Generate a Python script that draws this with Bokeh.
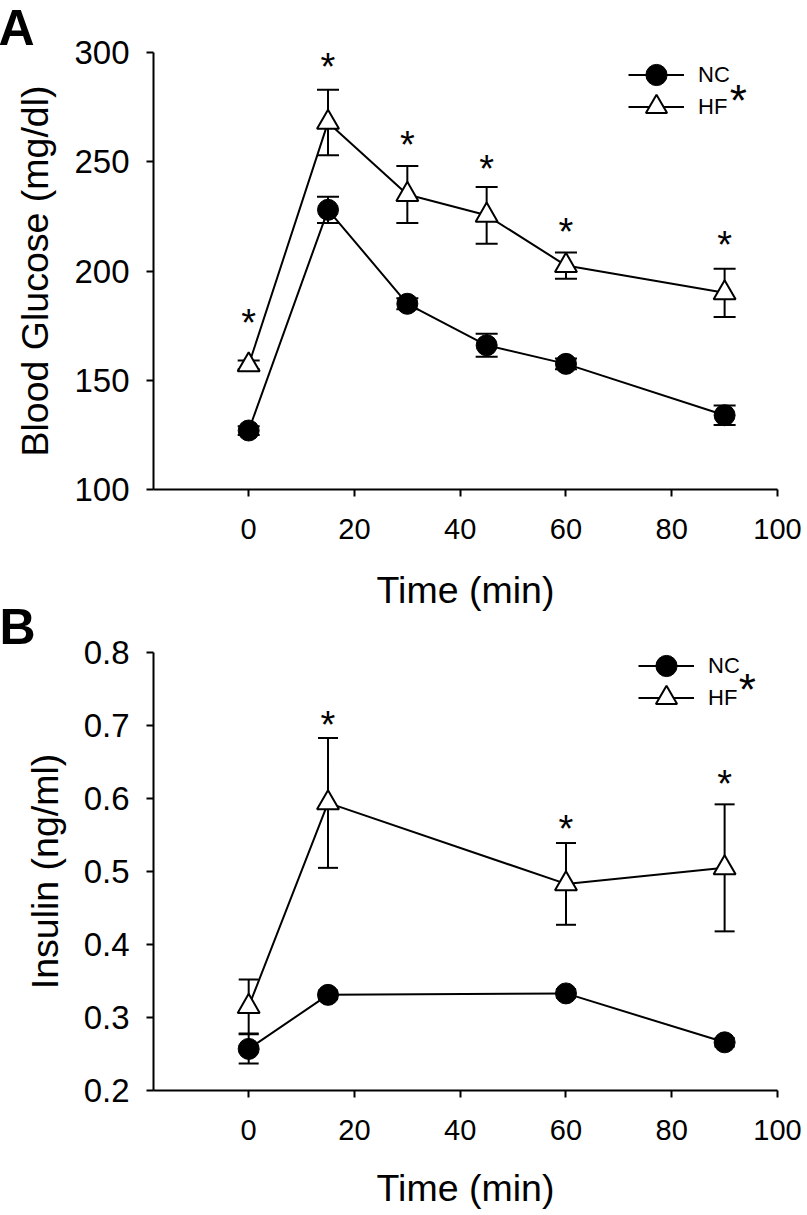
from bokeh.plotting import figure
from bokeh.models import (Range1d, Whisker, TeeHead, ColumnDataSource,
                          Legend, LegendItem, FixedTicker)
from bokeh.layouts import column
from bokeh.embed import file_html
from bokeh.resources import INLINE
from bokeh.core.properties import value

FONT = "Liberation Sans"

# ---------------- data ----------------
time_a = [0, 15, 30, 45, 60, 90]
nc_glucose = [127, 228, 185, 166, 157.5, 134]
nc_glucose_se = [2, 6, 2.5, 5.3, 2.5, 4.5]
hf_glucose = [157, 268, 235, 225.5, 202.5, 190]
hf_glucose_se = [2, 15, 13, 13, 6, 11]
glucose_star_t = [0, 15, 30, 45, 60, 90]
glucose_star_y = [178.5, 295.5, 260, 249, 220, 214]

time_b = [0, 15, 60, 90]
nc_insulin = [0.257, 0.331, 0.333, 0.266]
nc_insulin_se = [0.02, 0.006, 0.006, 0.006]
hf_insulin = [0.315, 0.594, 0.483, 0.505]
hf_insulin_se = [0.037, 0.089, 0.056, 0.087]
insulin_star_t = [15, 60, 90]
insulin_star_y = [0.707, 0.565, 0.627]

x_ticks = [0, 20, 40, 60, 80, 100]
glucose_ticks = [100, 150, 200, 250, 300]
insulin_ticks = [0.2, 0.3, 0.4, 0.5, 0.6, 0.7, 0.8]
series_names = ["NC", "HF"]


def make_panel(letter, height, border, t, nc, nc_se, hf, hf_se, star_t, star_y,
               yr, yticks, ylabel, cap, legend_x, legend_y, legend_star,
               title_standoff, ylabel_standoff, xlabel_standoff):
    left, right, top, bottom = border
    p = figure(width=807, height=height, output_backend="svg",
               toolbar_location=None, title=letter,
               x_range=Range1d(-18, 100), y_range=Range1d(*yr),
               min_border_left=left, min_border_right=right,
               min_border_top=top, min_border_bottom=bottom)
    p.grid.visible = False
    p.outline_line_color = None
    p.background_fill_color = "white"
    p.border_fill_color = "white"

    # panel letter
    p.title.align = "left"
    p.title.offset = -(left + 2)
    p.title.vertical_align = "bottom"
    p.title.standoff = title_standoff
    p.title.text_font = FONT
    p.title.text_font_style = "bold"
    p.title.text_font_size = "50px"
    p.title.text_color = "black"

    for ax in (p.xaxis[0], p.yaxis[0]):
        ax.axis_line_width = 2
        ax.axis_line_color = "black"
        ax.major_tick_line_width = 2
        ax.major_tick_line_color = "black"
        ax.major_tick_out = 7
        ax.major_tick_in = 0
        ax.minor_tick_out = 0
        ax.minor_tick_in = 0
        ax.major_label_text_font = FONT
        ax.major_label_text_color = "black"
        ax.axis_label_text_font = FONT
        ax.axis_label_text_font_style = "normal"
        ax.axis_label_text_font_size = "37.5px"
        ax.axis_label_text_color = "black"
    p.xaxis.ticker = FixedTicker(ticks=x_ticks)
    p.yaxis.ticker = FixedTicker(ticks=yticks)
    p.xaxis.major_label_text_font_size = "29px"
    p.yaxis.major_label_text_font_size = "33px"
    p.xaxis.major_label_standoff = 22
    p.yaxis.major_label_standoff = 17
    p.xaxis.axis_label = "Time (min)"
    p.yaxis.axis_label = ylabel
    p.xaxis.axis_label_standoff = xlabel_standoff
    p.yaxis.axis_label_standoff = ylabel_standoff

    # error bars (behind the markers)
    for vals, se in ((nc, nc_se), (hf, hf_se)):
        src = ColumnDataSource(dict(t=t, up=[v + s for v, s in zip(vals, se)],
                                    lo=[v - s for v, s in zip(vals, se)]))
        w = Whisker(base="t", upper="up", lower="lo", source=src,
                    line_color="black", line_width=2, level="underlay",
                    upper_head=TeeHead(size=cap, line_width=2, line_color="black"),
                    lower_head=TeeHead(size=cap, line_width=2, line_color="black"))
        p.add_layout(w)

    nc_line = p.line(t, nc, line_color="black", line_width=2)
    hf_line = p.line(t, hf, line_color="black", line_width=2)
    nc_mark = p.scatter(t, nc, marker="circle", size=21, fill_color="black",
                        line_color="black", line_width=1)
    hf_mark = p.scatter(t, hf, marker="triangle", size=22, fill_color="white",
                        line_color="black", line_width=2)

    # significance asterisks
    p.text(x=star_t, y=star_y, text=["*"] * len(star_t), text_font=value(FONT),
           text_font_size="38px", text_align="center", text_baseline="alphabetic",
           y_offset=5, text_color="black")

    # legend: one box per row
    for name, rends, ly in ((series_names[0], [nc_line, nc_mark], legend_y[0]),
                            (series_names[1], [hf_line, hf_mark], legend_y[1])):
        lg = Legend(items=[LegendItem(label=name, renderers=rends)],
                    location=(legend_x, ly), orientation="vertical",
                    glyph_width=56, glyph_height=53, spacing=0, padding=0, margin=0,
                    label_standoff=14, label_text_font=FONT, label_text_font_size="22px",
                    label_text_color="black", border_line_color=None,
                    background_fill_alpha=0)
        p.add_layout(lg)
    p.text(x=[legend_star[0]], y=[legend_star[1]], text=["*"], text_font=value(FONT),
           text_font_size="44px", text_align="center", text_baseline="alphabetic",
           y_offset=7, text_color="black")
    return p


pA = make_panel("A", 613, (153, 29, 52, 123), time_a, nc_glucose, nc_glucose_se,
                hf_glucose, hf_glucose_se, glucose_star_t, glucose_star_y,
                (100, 300), glucose_ticks, "Blood Glucose (mg/dl)", 22,
                475, (388, 356), (92.6, 281.3), -6, 15, 27)
pB = make_panel("B", 619, (152, 30, 56, 125), time_b, nc_insulin, nc_insulin_se,
                hf_insulin, hf_insulin_se, insulin_star_t, insulin_star_y,
                (0.2, 0.8), insulin_ticks, "Insulin (ng/ml)", 20,
                485, (398, 366), (94.3, 0.759), -5, 15, 24)
# the lower panel's transparent top margin overlaps the upper panel slightly,
# as in the original figure
pB.border_fill_alpha = 0
pB.margin = (-17, 0, 0, 0)

layout = column(pA, pB)
open("out.html", "w").write(file_html(layout, INLINE, title="Glucose and insulin"))
